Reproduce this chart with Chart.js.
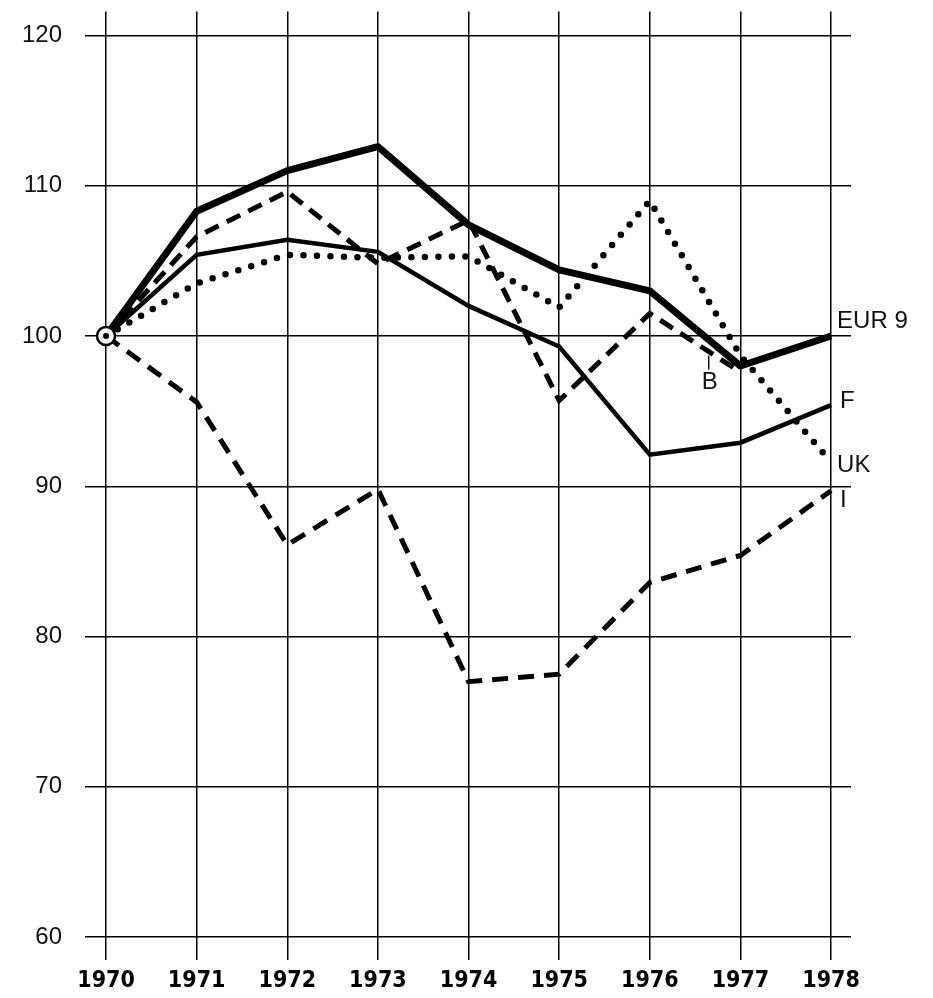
<!DOCTYPE html>
<html>
<head>
<meta charset="utf-8">
<script src="https://cdn.jsdelivr.net/npm/chart.js@4/dist/chart.umd.min.js"></script>
<style>
  html, body { margin: 0; padding: 0; background: #fff; }
  #wrap { width: 933px; height: 998px; }
</style>
</head>
<body>
<div id="wrap"><canvas id="chart" width="933" height="998"></canvas></div>
<script>
// valeurs (1970 = 100)
const years = [1970, 1971, 1972, 1973, 1974, 1975, 1976, 1977, 1978];
const yTicks = [60, 70, 80, 90, 100, 110, 120];

const eur9 = [100, 108.3, 111.0, 112.6, 107.4, 104.4, 103.0, 98.0, 100.0];
const belgium = [100, 106.6, 109.6, 104.8, 107.7, 95.7, 101.5, 97.6, null];
const france = [100, 105.4, 106.4, 105.6, 102.0, 99.3, 92.1, 92.9, 95.4];
const uk = [100, 103.5, 105.4, 105.2, 105.3, 101.9, 109.0, 98.7, 91.6];
const italy = [100, 95.6, 86.1, 89.8, 77.0, 77.5, 83.6, 85.4, 89.7];

const seriesNames = ['EUR 9', 'B', 'F', 'UK', 'I'];

function pts(vals) {
    return years.map((yr, i) => ({ x: yr, y: vals[i] }));
}

// petites étiquettes à droite des courbes
const endLabels = {
    id: 'endLabels',
    afterDatasetsDraw(chart) {
        const { ctx, scales: { x, y } } = chart;
        ctx.save();
        ctx.fillStyle = '#111';
        ctx.font = '24px "Liberation Sans", Arial, sans-serif';
        ctx.textAlign = 'left';
        ctx.textBaseline = 'middle';
        const last = years.length - 1;
        const lx = x.getPixelForValue(years[last]) + 6;
        ctx.fillText(seriesNames[0], lx, y.getPixelForValue(eur9[last]) - 15);
        ctx.fillText(seriesNames[2], lx + 3, y.getPixelForValue(france[last]) - 4);
        ctx.fillText(seriesNames[3], lx, y.getPixelForValue(uk[last]) + 3);
        ctx.fillText(seriesNames[4], lx + 3, y.getPixelForValue(italy[last]) + 10);

        // B : petit trait vers la courbe
        const bx = x.getPixelForValue(1976.65);
        const bVal = belgium[6] + (belgium[7] - belgium[6]) * 0.65;
        const by = y.getPixelForValue(bVal);
        ctx.strokeStyle = '#111';
        ctx.lineWidth = 1.5;
        ctx.beginPath();
        ctx.moveTo(bx, by + 4);
        ctx.lineTo(bx, by + 18);
        ctx.stroke();
        ctx.textAlign = 'center';
        ctx.fillText(seriesNames[1], bx + 1, by + 31);
        ctx.restore();
    }
};

new Chart(document.getElementById('chart'), {
    type: 'line',
    data: {
        datasets: [
            {
                label: 'origin-dot',
                data: [{ x: years[0], y: eur9[0] }],
                pointRadius: 3,
                pointBackgroundColor: '#000',
                pointBorderWidth: 0,
                showLine: false
            },
            {
                label: 'origin-ring',
                data: [{ x: years[0], y: eur9[0] }],
                pointRadius: 9,
                pointBackgroundColor: '#fff',
                pointBorderColor: '#000',
                pointBorderWidth: 2.5,
                showLine: false
            },
            {
                label: seriesNames[0],
                data: pts(eur9),
                borderColor: '#000',
                borderWidth: 7,
                borderJoinStyle: 'round'
            },
            {
                label: seriesNames[2],
                data: pts(france),
                borderColor: '#000',
                borderWidth: 4.5
            },
            {
                label: seriesNames[1],
                data: pts(belgium),
                borderColor: '#000',
                borderWidth: 5,
                borderDash: [15, 9]
            },
            {
                label: seriesNames[3],
                data: pts(uk),
                borderColor: '#000',
                borderWidth: 6.5,
                borderCapStyle: 'round',
                borderDash: [0, 13.5]
            },
            {
                label: seriesNames[4],
                data: pts(italy),
                borderColor: '#000',
                borderWidth: 5,
                borderDash: [16, 10]
            }
        ]
    },
    options: {
        responsive: false,
        animation: false,
        layout: { padding: { top: 5, right: 82, left: 0, bottom: 0 } },
        elements: {
            line: { tension: 0, fill: false },
            point: { radius: 0, hoverRadius: 0 }
        },
        plugins: {
            legend: { display: false },
            tooltip: { enabled: false }
        },
        scales: {
            x: {
                type: 'linear',
                min: 1969.768,
                max: 1978.22,
                afterBuildTicks: (s) => { s.ticks = years.map(v => ({ value: v })); },
                afterFit: (s) => { s.height = 38; },
                grid: { color: '#000', lineWidth: 1.5, drawTicks: false },
                border: { display: false },
                ticks: {
                    padding: 7,
                    color: '#000',
                    font: { family: '"Liberation Sans Narrow", "DejaVu Sans Condensed", sans-serif', size: 23, weight: 'bold' },
                    callback: (v) => String(v),
                    maxRotation: 0
                }
            },
            y: {
                min: 58.48,
                max: 121.59,
                afterBuildTicks: (s) => { s.ticks = yTicks.map(v => ({ value: v })); },
                afterFit: (s) => {
                    s.width = 85;
                    s.paddingTop = 0;
                    s.paddingBottom = 0;
                },
                grid: { color: '#000', lineWidth: 1.5, drawTicks: false },
                border: { display: false },
                ticks: {
                    padding: 23,
                    color: '#111',
                    font: { family: '"Liberation Sans", Arial, sans-serif', size: 24 },
                    callback: (v) => String(v)
                }
            }
        }
    },
    plugins: [endLabels]
});
</script>
</body>
</html>
